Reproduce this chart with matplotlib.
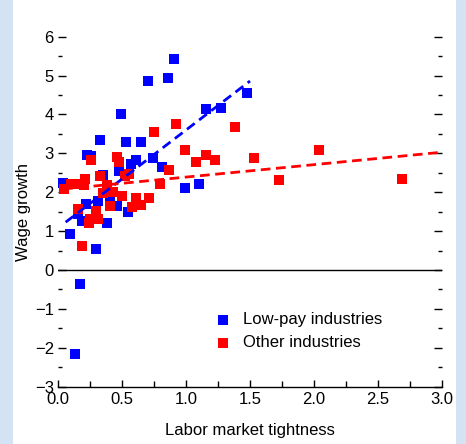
import matplotlib
matplotlib.use("Agg")
import matplotlib.pyplot as plt
from matplotlib.patches import Rectangle
from matplotlib.ticker import MultipleLocator
import numpy as np

plt.rcParams['font.family'] = ['Liberation Sans', 'DejaVu Sans']
fs = 12.0

# Low-pay industries (labor market tightness, wage growth)
low_x = [0.91, 0.705, 0.86, 0.49, 0.33, 0.53, 0.65, 1.16, 1.27, 1.48, 0.745, 0.99,
         1.10, 0.81, 0.23, 0.26, 0.57, 0.61, 0.35, 0.48, 0.04, 0.215, 0.315, 0.41,
         0.46, 0.55, 0.16, 0.19, 0.385, 0.094, 0.30, 0.17, 0.13]
low_y = [5.43, 4.87, 4.94, 4.00, 3.35, 3.28, 3.28, 4.15, 4.17, 4.56, 2.88, 2.11,
         2.22, 2.65, 2.95, 2.92, 2.73, 2.82, 2.44, 2.54, 2.24, 1.71, 1.78, 1.74,
         1.64, 1.50, 1.43, 1.26, 1.20, 0.92, 0.54, -0.36, -2.15]

# Other industries
oth_x = [0.047, 0.10, 0.15, 0.20, 0.21, 0.26, 0.33, 0.385, 0.35, 0.43, 0.50, 0.61,
         0.71, 0.16, 0.30, 0.41, 0.58, 0.65, 0.24, 0.25, 0.315, 0.185, 0.46, 0.48,
         0.52, 0.555, 0.75, 0.92, 0.80, 0.87, 0.99, 1.08, 1.16, 1.23, 1.38, 1.53,
         2.04, 1.73, 2.69]
oth_y = [2.09, 2.22, 2.20, 2.18, 2.35, 2.82, 2.41, 2.18, 1.97, 2.01, 1.90, 1.86,
         1.86, 1.58, 1.52, 1.64, 1.61, 1.67, 1.21, 1.30, 1.30, 0.62, 2.91, 2.78,
         2.42, 2.46, 3.55, 3.76, 2.20, 2.58, 3.08, 2.78, 2.97, 2.82, 3.67, 2.89,
         3.09, 2.32, 2.35]

# Fitted trend lines: (intercept, slope), x-range
low_fit = (1.08, 2.52)
low_fit_range = [0.06, 1.50]
oth_fit = (2.07, 0.32)
oth_fit_range = [0.04, 3.0]

x_ticks = [0.0, 0.5, 1.0, 1.5, 2.0, 2.5, 3.0]
y_ticks = [-3, -2, -1, 0, 1, 2, 3, 4, 5, 6]

blue = '#0000FF'
red = '#FF0000'

fig = plt.figure(figsize=(4.66, 4.44), dpi=100)
fig.patch.set_facecolor('#D3E3F3')
fig.patches.append(Rectangle((13/466, 0), (456-13)/466, 1, transform=fig.transFigure,
                             facecolor='white', edgecolor='none', zorder=-10))

ax = fig.add_axes([58/466, 1 - 386.7/444, (442-58)/466, (386.7-36.7)/444])
ax.set_zorder(5)
ax.set_facecolor('none')

ax.scatter(low_x, low_y, marker='s', s=52, color=blue, linewidths=0, zorder=3,
           label='Low-pay industries')
ax.scatter(oth_x, oth_y, marker='s', s=52, color=red, linewidths=0, zorder=3,
           label='Other industries')

xl = np.array(low_fit_range)
ax.plot(xl, low_fit[0] + low_fit[1] * xl, color=blue, lw=2.0, dashes=(3.5, 2), zorder=4)
xo = np.array(oth_fit_range)
ax.plot(xo, oth_fit[0] + oth_fit[1] * xo, color=red, lw=2.0, dashes=(3.5, 2), zorder=4)

ax.axhline(0, color='black', lw=1.0, zorder=2)

ax.set_xlim(0, 3)
ax.set_ylim(-3, 6)
ax.set_xticks(x_ticks)
ax.set_xticklabels([f"{v:.1f}" for v in x_ticks])
ax.set_yticks(y_ticks)
ax.set_yticklabels([str(v).replace('-', '\u2212') for v in y_ticks])
ax.xaxis.set_minor_locator(MultipleLocator(0.25))
ax.yaxis.set_minor_locator(MultipleLocator(0.5))

for s in ['left', 'right', 'top']:
    ax.spines[s].set_visible(False)
ax.spines['bottom'].set_linewidth(1.0)

ax.tick_params(axis='y', which='both', direction='in', left=True, right=True,
               labelsize=fs, pad=3, width=1.0)
ax.tick_params(axis='y', which='major', length=6)
ax.tick_params(axis='y', which='minor', length=3)
ax.tick_params(axis='x', which='both', direction='in', labelsize=fs, pad=4, width=1.0)
ax.tick_params(axis='x', which='major', length=5)
ax.tick_params(axis='x', which='minor', length=4)

ax.set_xlabel('Labor market tightness', fontsize=fs, labelpad=11)
ax.set_ylabel('Wage growth', fontsize=fs, labelpad=3)

leg = ax.legend(loc='lower left', bbox_to_anchor=(0.39, 0.085), frameon=False,
                fontsize=fs, handletextpad=0.7, borderaxespad=0, labelspacing=0.5,
                handlelength=1.0, scatterpoints=1)

fig.savefig('out.png', dpi=100, facecolor=fig.get_facecolor())
